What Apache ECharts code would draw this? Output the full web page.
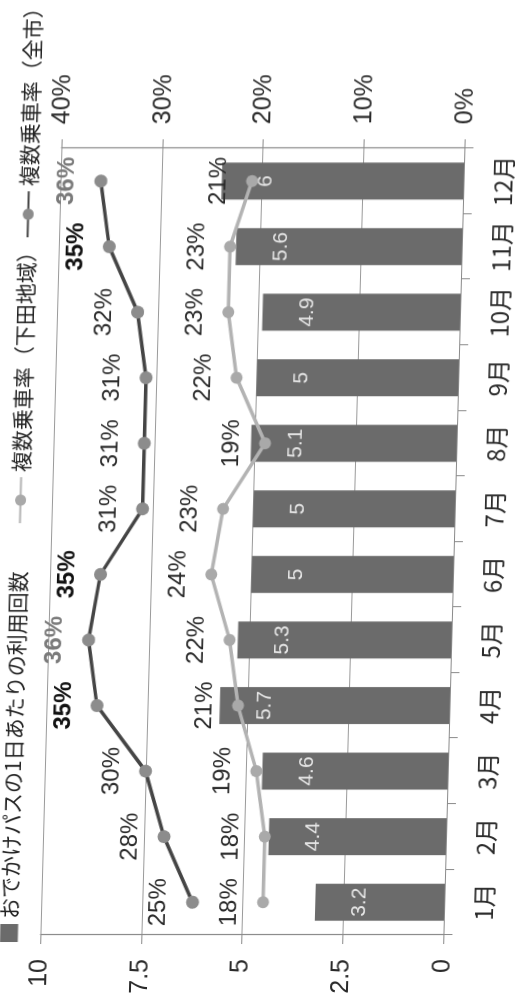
<!DOCTYPE html>
<html lang="ja">
<head>
<meta charset="utf-8">
<title>おでかけパスの利用回数と複数乗車率</title>
<script src="https://cdn.jsdelivr.net/npm/echarts@6/dist/echarts.min.js"></script>
<style>
  html, body { margin: 0; padding: 0; background: #fff; overflow: hidden; }
  body { width: 515px; height: 1005px; position: relative; }
  /* the chart is laid out landscape and turned to read bottom-to-top */
  #chart {
    position: absolute; left: 0; top: 0;
    width: 1005px; height: 515px;
    transform-origin: 0 0;
    transform: translateX(14.4px) skewX(-1.53deg) translateY(1005px) rotate(-90deg);
  }
</style>
</head>
<body>
<div id="chart"></div>
<script>
// months
const months = ['1月', '2月', '3月', '4月', '5月', '6月', '7月', '8月', '9月', '10月', '11月', '12月'];
// average rides per day with the pass
const ridesPerDay = [3.2, 4.4, 4.6, 5.7, 5.3, 5, 5, 5.1, 5, 4.9, 5.6, 6];
// share of multi-ride users, Shimoda area (%)
const shimodaRate = [18, 18, 19, 21, 22, 24, 23, 19, 22, 23, 23, 21];
// share of multi-ride users, whole city (%)
const cityRate = [25, 28, 30, 35, 36, 35, 31, 31, 31, 32, 35, 36];
// left and right axis tick labels
const countTicks = ['0', '2.5', '5', '7.5', '10'];
const rateTicks = ['0%', '10%', '20%', '30%', '40%'];

const NAME_BAR = 'おでかけパスの1日あたりの利用回数';
const NAME_SHIMODA = '複数乗車率（下田地域）';
const NAME_CITY = '複数乗車率（全市）';

const NUM_FONT = "'Liberation Sans', Arial, 'Noto Sans CJK JP', sans-serif";
const JP_FONT = "'Noto Sans CJK JP', 'Liberation Sans', sans-serif";

const chart = echarts.init(document.getElementById('chart'), null, { renderer: 'canvas' });

const legendText = { fontSize: 21, color: '#222', fontFamily: JP_FONT };

function rateLabel(color) {
  return {
    show: true,
    position: 'top',
    distance: 15,
    fontFamily: NUM_FONT,
    fontSize: 24,
    color: color,
    formatter: p => {
      const v = p.value;
      if (v >= 36) return '{hi|' + v + '%}';
      if (v >= 35) return '{b|' + v + '%}';
      return v + '%';
    },
    rich: {
      b: { fontFamily: NUM_FONT, fontSize: 24, fontWeight: 'bold', color: '#111' },
      hi: { fontFamily: NUM_FONT, fontSize: 24, fontWeight: 'bold', color: '#7a7a7a' }
    }
  };
}

const option = {
  backgroundColor: '#fff',
  animation: false,
  legend: [
    {
      data: [{ name: NAME_BAR, icon: 'rect' }],
      left: 58, top: 4, itemWidth: 18, itemHeight: 18, itemGap: 5,
      textStyle: legendText
    },
    {
      data: [NAME_SHIMODA],
      left: 476, top: 4, itemWidth: 46, itemHeight: 14,
      textStyle: legendText
    },
    {
      data: [NAME_CITY],
      left: 762, top: 4, itemWidth: 46, itemHeight: 14,
      textStyle: legendText
    }
  ],
  grid: { left: 70, right: 148, top: 51, bottom: 61 },
  xAxis: {
    type: 'category',
    data: months,
    boundaryGap: true,
    axisLine: { show: true, lineStyle: { color: '#8a8a8a', width: 1.2 } },
    axisTick: { show: true, length: 9, alignWithLabel: false, interval: 0, lineStyle: { color: '#8a8a8a' } },
    axisLabel: { interval: 0, fontFamily: JP_FONT, fontSize: 24, color: '#2a2a2a', margin: 28 }
  },
  yAxis: [
    {
      type: 'value', position: 'left',
      min: 0, max: 10, interval: 2.5,
      axisLine: { show: true, lineStyle: { color: '#8a8a8a', width: 1.2 } },
      axisTick: { show: true, length: 9, lineStyle: { color: '#8a8a8a' } },
      axisLabel: {
        fontFamily: NUM_FONT, fontSize: 25, color: '#2a2a2a', margin: 24,
        formatter: (v) => countTicks[Math.round(v / 2.5)]
      },
      splitLine: { show: true, lineStyle: { color: '#9a9a9a', width: 1.2 } }
    },
    {
      type: 'value', position: 'right',
      min: 0, max: 40, interval: 10,
      axisLine: { show: true, lineStyle: { color: '#8a8a8a', width: 1.2 } },
      axisTick: { show: true, length: 9, lineStyle: { color: '#8a8a8a' } },
      axisLabel: {
        fontFamily: NUM_FONT, fontSize: 25, color: '#2a2a2a', margin: 24,
        formatter: (v) => rateTicks[Math.round(v / 10)]
      },
      splitLine: { show: false }
    }
  ],
  series: [
    {
      name: NAME_BAR,
      type: 'bar',
      yAxisIndex: 0,
      data: ridesPerDay,
      barWidth: 37,
      itemStyle: { color: '#6b6b6b' },
      label: {
        show: true,
        position: 'insideTop',
        distance: 34,
        fontFamily: NUM_FONT,
        fontSize: 21,
        color: '#e6e6e6'
      },
      z: 2
    },
    {
      name: NAME_SHIMODA,
      type: 'line',
      yAxisIndex: 1,
      data: shimodaRate,
      symbol: 'circle',
      symbolSize: 12,
      lineStyle: { color: '#b3b3b3', width: 3.5 },
      itemStyle: { color: '#a9a9a9' },
      label: rateLabel('#2a2a2a'),
      z: 4
    },
    {
      name: NAME_CITY,
      type: 'line',
      yAxisIndex: 1,
      data: cityRate,
      symbol: 'circle',
      symbolSize: 13,
      lineStyle: { color: '#454545', width: 3.5 },
      itemStyle: { color: '#8c8c8c' },
      label: rateLabel('#2a2a2a'),
      z: 5
    }
  ]
};

chart.setOption(option);
</script>
</body>
</html>
